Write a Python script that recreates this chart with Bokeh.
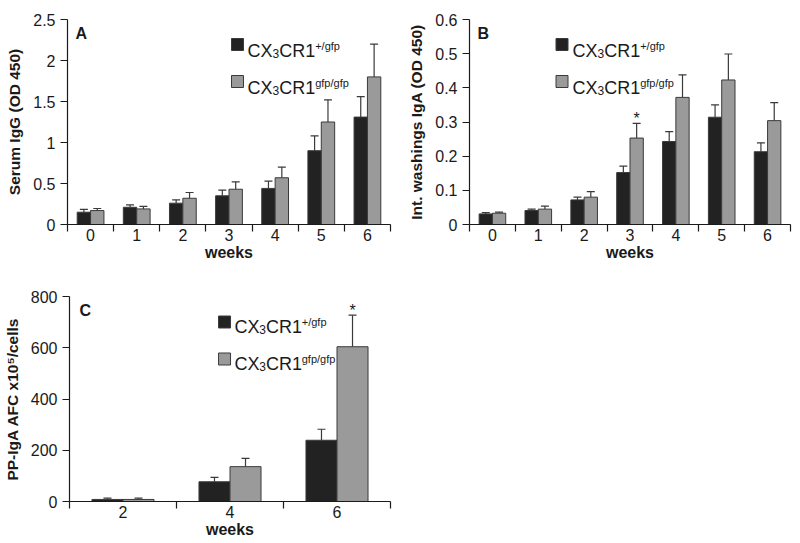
from bokeh.plotting import figure
from bokeh.models import Range1d, FixedTicker, Whisker, TeeHead, ColumnDataSource, Label
from bokeh.layouts import row, column
from bokeh.core.properties import value
from bokeh.embed import file_html
from bokeh.resources import INLINE

FONT = "Liberation Sans"
DARK = "#222222"
GRAY = "#9a9a9a"
EDGE = "#3a3a3a"
INK = "#1a1a1a"
BAR_W = 0.29

# ---------------- data ----------------
weeks_ab = ["0", "1", "2", "3", "4", "5", "6"]

a_het = [0.15, 0.21, 0.26, 0.35, 0.44, 0.90, 1.31]
a_het_err = [0.035, 0.03, 0.04, 0.07, 0.09, 0.18, 0.25]
a_ko = [0.17, 0.19, 0.32, 0.43, 0.57, 1.25, 1.80]
a_ko_err = [0.025, 0.03, 0.07, 0.09, 0.13, 0.27, 0.40]
a_sig = ["", "", "", "", "", "", ""]
a_yticks = [0, 0.5, 1, 1.5, 2, 2.5]
a_ylabels = ["0", "0.5", "1", "1.5", "2", "2.5"]

b_het = [0.031, 0.041, 0.072, 0.152, 0.243, 0.314, 0.213]
b_het_err = [0.004, 0.004, 0.008, 0.019, 0.029, 0.036, 0.026]
b_ko = [0.033, 0.045, 0.080, 0.253, 0.372, 0.423, 0.304]
b_ko_err = [0.003, 0.009, 0.016, 0.043, 0.066, 0.076, 0.053]
b_sig = ["", "", "", "*", "", "", ""]
b_yticks = [0, 0.1, 0.2, 0.3, 0.4, 0.5, 0.6]
b_ylabels = ["0", "0.1", "0.2", "0.3", "0.4", "0.5", "0.6"]

weeks_c = ["2", "4", "6"]
c_het = [8, 77, 239]
c_het_err = [5, 17, 43]
c_ko = [8, 136, 604]
c_ko_err = [5, 32, 123]
c_sig = ["", "", "*"]
c_yticks = [0, 200, 400, 600, 800]
c_ylabels = ["0", "200", "400", "600", "800"]

series_names = ["+/gfp", "gfp/gfp"]

# Arial / Liberation Sans advance widths (em)
ADV = {"C": 0.722, "X": 0.667, "R": 0.722, "1": 0.556, "3": 0.556, "+": 0.584,
       "/": 0.278, "g": 0.556, "f": 0.278, "p": 0.556}


def text_w(t, fs):
    return sum(ADV.get(ch, 0.556) for ch in t) * fs


def build(cats, het, het_err, ko, ko_err, sig, ymax, yticks, ylabels, ylabel, letter,
          width, height, bl, br, bt, bb, sq_dx, txt_dx, leg_rows, letter_dx, letter_dy):
    n = len(cats)
    fw = width - bl - br
    fh = height - bt - bb
    p = figure(width=width, height=height, x_range=Range1d(0, n), y_range=Range1d(0, ymax),
               output_backend="svg", toolbar_location=None,
               min_border_left=bl, min_border_right=br, min_border_top=bt, min_border_bottom=bb)
    p.outline_line_color = None
    p.xgrid.visible = False
    p.ygrid.visible = False
    p.background_fill_color = "white"
    p.border_fill_color = "white"

    def to_data(dx, dy):
        return dx / fw * n, ymax - dy / fh * ymax

    centers = [i + 0.5 for i in range(n)]
    xh = [c - BAR_W / 2 for c in centers]
    xk = [c + BAR_W / 2 for c in centers]

    for xs, vals, errs, col in ((xh, het, het_err, DARK), (xk, ko, ko_err, GRAY)):
        src = ColumnDataSource(dict(base=xs, lower=vals, upper=[v + e for v, e in zip(vals, errs)]))
        w = Whisker(source=src, base="base", lower="lower", upper="upper", dimension="height",
                    line_color=EDGE, line_width=1.2, lower_head=None,
                    upper_head=TeeHead(size=8, line_color=EDGE, line_width=1.2))
        p.add_layout(w)
        p.vbar(x=xs, top=vals, width=BAR_W, bottom=0, fill_color=col, line_color=EDGE, line_width=1)

    sx = [xk[i] for i, s in enumerate(sig) if s]
    sy = [ko[i] + ko_err[i] for i, s in enumerate(sig) if s]
    st = [s for s in sig if s]
    if sx:
        p.text(x=sx, y=sy, text=st, text_font=value(FONT), text_font_size=value("16px"),
               text_align="center", text_baseline="alphabetic", text_color=INK, y_offset=-5)

    xa = p.xaxis[0]
    xa.ticker = FixedTicker(ticks=centers, minor_ticks=list(range(n + 1)))
    xa.major_label_overrides = {c: lab for c, lab in zip(centers, cats)}
    xa.major_tick_in = 0
    xa.major_tick_out = 0
    xa.minor_tick_in = 0
    xa.minor_tick_out = 7
    xa.minor_tick_line_color = INK
    xa.minor_tick_line_width = 1.2
    xa.axis_line_color = INK
    xa.axis_line_width = 1.2
    xa.major_label_standoff = -3
    xa.major_label_text_font = FONT
    xa.major_label_text_font_size = "16px"
    xa.major_label_text_color = INK
    xa.axis_label = "weeks"
    xa.axis_label_text_font = FONT
    xa.axis_label_text_font_style = "bold"
    xa.axis_label_text_font_size = "16px"
    xa.axis_label_text_color = INK
    xa.axis_label_standoff = 0

    ya = p.yaxis[0]
    ya.ticker = FixedTicker(ticks=yticks)
    ya.major_label_overrides = {t: lab for t, lab in zip(yticks, ylabels)}
    ya.major_tick_in = 0
    ya.major_tick_out = 7
    ya.minor_tick_in = 0
    ya.minor_tick_out = 0
    ya.major_tick_line_color = INK
    ya.major_tick_line_width = 1.2
    ya.axis_line_color = INK
    ya.axis_line_width = 1.2
    ya.major_label_standoff = 5
    ya.major_label_text_font = FONT
    ya.major_label_text_font_size = "16px"
    ya.major_label_text_color = INK
    ya.axis_label = ylabel
    ya.axis_label_text_font = FONT
    ya.axis_label_text_font_style = "bold"
    ya.axis_label_text_font_size = "15.5px"
    ya.axis_label_text_color = INK
    ya.axis_label_standoff = 7

    # legend (manual, to allow sub/superscripts)
    for col, sup, (sq_dy, base_dy) in zip((DARK, GRAY), series_names, leg_rows):
        x, y = to_data(sq_dx, sq_dy)
        p.rect(x=[x], y=[y], width=12, height=12, width_units="screen", height_units="screen",
               fill_color=col, line_color=EDGE, line_width=1)
        pieces = [("CX", 18, 0), ("3", 12, 2.5), ("CR1", 18, 0), (sup, 11, -5)]
        dx = txt_dx
        for txt, fs, shift in pieces:
            lx, ly = to_data(dx, base_dy + shift)
            p.add_layout(Label(x=lx, y=ly, text=txt, text_font=FONT, text_font_size=f"{fs}px",
                               text_baseline="alphabetic", text_align="left", text_color=INK))
            dx += text_w(txt, fs)

    lx, ly = to_data(letter_dx, letter_dy)
    p.add_layout(Label(x=lx, y=ly, text=letter, text_font=FONT, text_font_size="16px",
                       text_font_style="bold", text_baseline="alphabetic", text_color=INK))
    return p


pA = build(weeks_ab, a_het, a_het_err, a_ko, a_ko_err, a_sig, 2.5, a_yticks, a_ylabels,
           "Serum IgG (OD 450)", "A",
           400, 272, 67, 10, 19, 48, 170, 180, [(25, 31), (62, 68)], 8, 14)
pB = build(weeks_ab, b_het, b_het_err, b_ko, b_ko_err, b_sig, 0.6, b_yticks, b_ylabels,
           "Int. washings IgA (OD 450)", "B",
           400, 272, 69, 10, 19, 48, 92.5, 103, [(25, 31), (62, 68)], 8, 14)
pC = build(weeks_c, c_het, c_het_err, c_ko, c_ko_err, c_sig, 800, c_yticks, c_ylabels,
           "PP-IgA AFC x10\u2075/cells", "C",
           400, 270, 67, 10, 24, 41, 156, 166, [(25.5, 30.7), (62.5, 67.3)], 10, 14)

layout = column(row(pA, pB), pC)
open("out.html", "w").write(file_html(layout, INLINE))
